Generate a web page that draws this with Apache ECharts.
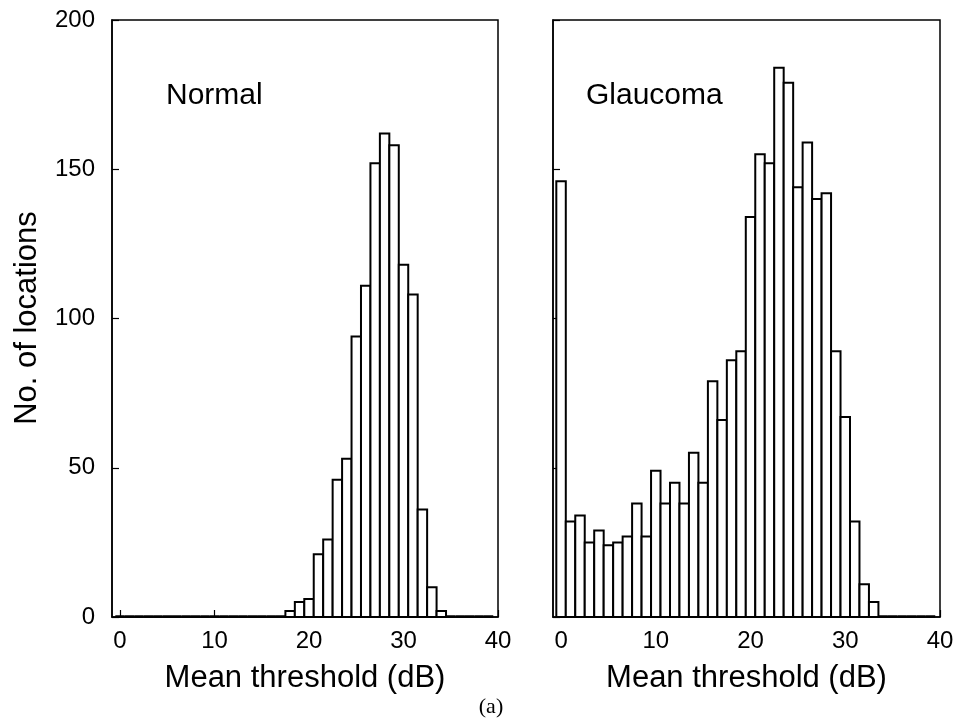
<!DOCTYPE html>
<html>
<head>
<meta charset="utf-8">
<script src="https://cdn.jsdelivr.net/npm/echarts@6/dist/echarts.min.js"></script>
<style>html,body{margin:0;padding:0;background:#fff;}#c{width:961px;height:724px;}</style>
</head>
<body>
<div id="c"></div>
<script>
// Bin centres (dB)
const bins = [0,1,2,3,4,5,6,7,8,9,10,11,12,13,14,15,16,17,18,19,20,21,22,23,24,25,26,27,28,29,30,31,32,33,34,35,36,37,38,39];
// Counts per bin
const normalCounts = [0,0,0,0,0,0,0,0,0,0,0,0,0,0,0,0,0,0,2,5,6,21,26,46,53,94,111,152,162,158,118,108,36,10,2,0,0,0,0,0];
const glaucomaCounts = [146,32,34,25,29,24,25,27,38,27,49,38,45,38,55,45,79,66,86,89,134,155,152,184,179,144,159,140,142,89,67,32,11,5,0,0,0,0,0,0];
const xTicks = [0,10,20,30,40];
const panelLabels = ['Normal','Glaucoma'];
const xTitle = 'Mean threshold (dB)';
const yTitle = 'No. of locations';
const caption = '(a)';

const FONT = '"Liberation Sans", Arial, Helvetica, sans-serif';

function renderBar(params, api) {
  const x = api.value(0), v = api.value(1);
  const p0 = api.coord([x - 0.5, v]);
  const p1 = api.coord([x + 0.5, 0]);
  if (v === 0) {
    return {
      type: 'line',
      shape: { x1: p0[0], y1: p1[1] - 0.5, x2: p1[0], y2: p1[1] - 0.5 },
      style: { stroke: '#000', lineWidth: 2.5 }
    };
  }
  return {
    type: 'rect',
    shape: { x: p0[0], y: p0[1], width: p1[0] - p0[0], height: p1[1] - p0[1] },
    style: { fill: '#fff', stroke: '#000', lineWidth: 2 }
  };
}

function xAxis(idx) {
  return {
    type: 'value', gridIndex: idx, min: -0.85, max: 40,
    splitLine: { show: false },
    axisLine: { show: true, onZero: false, lineStyle: { color: '#000', width: 1.5 } },
    axisTick: { show: true, inside: true, length: 7, customValues: xTicks, lineStyle: { color: '#000', width: 1.2 } },
    axisLabel: { show: true, customValues: xTicks, margin: 12, fontSize: 24, color: '#000', fontFamily: FONT },
    name: xTitle, nameLocation: 'middle', nameGap: 46,
    nameTextStyle: { fontSize: 31, color: '#000', fontFamily: FONT }
  };
}
function yAxis(idx, labels) {
  return {
    type: 'value', gridIndex: idx, min: 0, max: 200, interval: 50,
    splitLine: { show: false },
    axisLine: { show: true, onZero: false, lineStyle: { color: '#000', width: 1.5 } },
    axisTick: { show: true, inside: true, length: 7, lineStyle: { color: '#000', width: 1.2 } },
    axisLabel: { show: labels, margin: 17, fontSize: 24, color: '#000', fontFamily: FONT }
  };
}

const chart = echarts.init(document.getElementById('c'), null, { renderer: 'canvas' });
chart.setOption({
  animation: false,
  backgroundColor: '#fff',
  grid: [
    { left: 112, right: 463, top: 20, bottom: 107, show: true, borderColor: '#000', borderWidth: 1.5, backgroundColor: 'transparent' },
    { left: 553, right: 21, top: 20, bottom: 107, show: true, borderColor: '#000', borderWidth: 1.5, backgroundColor: 'transparent' }
  ],
  xAxis: [xAxis(0), xAxis(1)],
  yAxis: [yAxis(0, true), yAxis(1, false)],
  series: [
    { type: 'custom', xAxisIndex: 0, yAxisIndex: 0, renderItem: renderBar,
      data: bins.map((b, i) => [b, normalCounts[i]]) },
    { type: 'custom', xAxisIndex: 1, yAxisIndex: 1, renderItem: renderBar,
      data: bins.map((b, i) => [b, glaucomaCounts[i]]) }
  ],
  graphic: [
    { type: 'text', left: 166, top: 81, style: { text: panelLabels[0], fontSize: 30, fill: '#000', fontFamily: FONT } },
    { type: 'text', left: 586, top: 81, style: { text: panelLabels[1], fontSize: 30, fill: '#000', fontFamily: FONT } },
    { type: 'text', x: 27, y: 318, rotation: Math.PI / 2,
      style: { text: yTitle, fontSize: 31, fill: '#000', fontFamily: FONT, align: 'center', verticalAlign: 'middle', textAlign: 'center', textVerticalAlign: 'middle' } },
    { type: 'text', x: 491, y: 707,
      style: { text: caption, fontSize: 22, fill: '#000', fontFamily: '"Liberation Serif", "DejaVu Serif", serif', align: 'center', verticalAlign: 'middle', textAlign: 'center', textVerticalAlign: 'middle' } }
  ]
});
</script>
</body>
</html>
